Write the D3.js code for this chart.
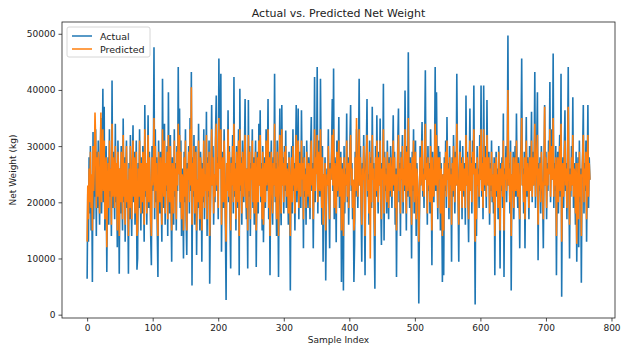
<!DOCTYPE html>
<html>
<head>
<meta charset="utf-8">
<script src="https://cdn.jsdelivr.net/npm/d3@7"></script>
<style>
  body { margin: 0; background: #fff; }
  text { font-family: "DejaVu Sans", sans-serif; fill: #222; }
</style>
</head>
<body>
<div id="chart"></div>
<script>
// values, in thousands of kg (one entry per sample index)
const actualK = [
  6.4, 22, 13, 28, 18, 30, 15, 24, 5.8, 32.5, 17, 26, 21, 33, 14, 29,
  19, 31, 23, 16, 27, 35, 18, 25, 40.2, 20, 37, 15, 24, 30, 7.6, 22,
  28, 16, 33, 21, 26, 14, 41.7, 19, 29, 23, 17, 34, 20, 27, 12, 31,
  24, 7.3, 26, 18, 30, 22, 15, 34.9, 20, 28, 13, 25, 31, 19, 23, 7.3,
  27, 17, 32, 21, 14, 26, 33.7, 20, 29, 16, 24, 31, 8, 10, 27, 19,
  33, 22, 15, 28, 18, 30, 24, 13, 37.3, 21, 27, 16, 25, 35.5, 19, 29,
  23, 14, 8.8, 30, 22, 26, 47.6, 17, 33, 20, 28, 15, 6.7, 31, 24, 18,
  29, 21, 13, 42, 25, 19, 34, 16, 27, 22, 30, 14, 39.6, 23, 18, 32,
  20, 9.4, 28, 24, 16, 33, 21, 27, 15, 30, 22, 44.1, 25, 36.7, 19, 31,
  14, 26, 23, 10, 29, 20, 33, 17, 10.6, 27, 24, 30, 18, 35, 22, 43.2,
  5.2, 28, 21, 32, 16, 25, 30, 10.6, 24, 19, 34, 22, 15, 29, 26, 9.4,
  27, 20, 33, 17, 25, 22, 36.1, 14, 28, 21, 31, 5.5, 18, 26, 37.3, 23,
  30, 16, 25, 20, 33, 39, 22, 28, 17, 45.6, 26, 31, 42.9, 11.2, 24, 29,
  19, 33, 25, 15, 2.6, 27, 22, 36.4, 20, 30, 17, 8.2, 28, 23, 32, 18,
  42.3, 21, 27, 15, 30, 24, 19, 33, 7, 40.2, 22, 28, 16, 31, 25, 20,
  29, 38.4, 23, 17, 26, 8.2, 38.2, 21, 30, 14, 27, 24, 33, 19, 28, 16,
  25, 31, 8.5, 22, 29, 18, 34, 23, 36.4, 20, 27, 15, 30, 12.9, 24, 28,
  19, 33, 22, 26, 38.4, 17, 29, 7, 25, 31, 21, 16, 28, 23, 42.9, 20,
  27, 14, 31, 24, 6.7, 26, 36.7, 21, 15.9, 37.3, 23, 28, 18, 30, 22, 32.8,
  19, 27, 24, 16, 29, 21, 4.3, 25, 30, 18, 33, 22, 27, 15, 28, 37.3,
  20, 26, 36.7, 17, 29, 23, 19, 36.4, 24, 28, 11.8, 30, 21, 26, 16, 31,
  23, 19, 28, 25, 17, 30, 35.2, 22, 27, 11.8, 24, 42.3, 20, 29, 26, 44.1,
  18, 31, 24, 21, 42, 27, 16, 30, 9.4, 25, 22, 28, 6.1, 19, 26, 23,
  33, 20, 11.8, 27, 24, 30, 38.4, 22, 43.8, 17, 28, 25, 12.9, 31, 21, 26,
  35.2, 19, 24, 29, 5.8, 27, 22, 4.3, 30, 18, 26, 23, 35.8, 20, 28, 16,
  25, 31, 37.3, 22, 27, 17, 24, 5.8, 12.4, 29, 21, 33, 26, 19, 28, 42,
  23, 30, 18, 9.4, 27, 24, 32, 20, 7, 26, 29, 38.4, 21, 25, 16, 31,
  22, 28, 19, 37, 24, 27, 15, 4.6, 30, 21, 35.5, 25, 18, 29, 23, 34.9,
  20, 12.4, 27, 24, 41.1, 13.2, 29, 22, 26, 18, 31, 24, 17, 28, 21, 30,
  25, 19, 27, 35.5, 22, 29, 16, 26, 6.7, 23, 31, 36.7, 20, 27, 14, 29,
  24, 32, 18, 26, 22, 39.9, 27, 15, 30, 21, 46.7, 25, 19, 28, 23, 10,
  29, 22, 33, 18, 26, 31, 14, 27, 24, 20, 2, 17, 30, 23, 28, 34.3,
  21, 26, 19, 31, 43.5, 24, 28, 16, 30, 22, 27, 18, 33, 25, 8.8, 29,
  23, 20, 27, 44.1, 22, 39.6, 26, 17, 30, 24, 29, 15, 27, 21, 5.8, 25,
  7, 28, 22, 31, 19, 35.2, 24, 27, 17, 30, 23, 26, 9.4, 28, 21, 32,
  25, 18, 29, 23, 42.9, 27, 20, 9.4, 26, 31, 22, 28, 17, 30, 24, 21,
  27, 16, 39, 23, 29, 20, 12.9, 26, 36.7, 22, 28, 18, 31, 25, 40.8, 21,
  1.8, 27, 14, 30, 23, 26, 19, 32, 24, 40.8, 21, 28, 17, 40.8, 25, 22,
  30, 19, 38.2, 26, 23, 29, 16, 27, 22, 31, 20, 25, 18, 28, 7, 24,
  29, 21, 26, 17, 30, 23, 8.2, 27, 22, 28, 19, 35.8, 6.7, 26, 24, 30,
  20, 28, 49.7, 23, 27, 18, 31, 4.3, 25, 22, 29, 17, 26, 30, 21, 35.8,
  24, 19, 28, 22, 11.8, 27, 31, 45.6, 23, 26, 18, 29, 11.8, 25, 35.2, 21,
  28, 24, 17, 30, 22, 26, 36.1, 20, 29, 23, 27, 43.2, 19, 25, 31, 39.6,
  9.7, 27, 22, 28, 18, 30, 24, 21, 11.8, 26, 37.3, 23, 29, 17, 27, 22,
  31, 25, 41.4, 20, 28, 33, 24, 46.5, 19, 27, 22, 30, 7, 25, 29, 18,
  26, 32, 21, 42.9, 3.2, 24, 28, 19, 30, 36.4, 22, 27, 17, 29, 44.1, 24,
  10, 26, 21, 30, 23, 38.7, 19, 27, 25, 16, 29, 9.4, 22, 28, 12, 31,
  20, 26, 5.7, 24, 29, 37.3, 18, 27, 22, 31, 13, 25, 37.3, 19, 28, 24
]

const predictedK = [
  13, 23, 17, 26, 20, 29, 19, 25, 15, 30, 22, 27, 36, 31, 19, 28,
  21, 29, 24, 18, 26, 36, 20, 25, 33, 22, 31, 17, 25, 28, 12, 23,
  27, 19, 31, 22, 26, 16, 34, 21, 28, 24, 19, 30, 21, 27, 15, 29,
  25, 14, 26, 20, 29, 23, 17, 32, 21, 27, 16, 25, 30, 20, 24, 14,
  26, 19, 30, 22, 17, 26, 31, 21, 28, 18, 24, 29, 14, 15, 26, 21,
  31, 23, 18, 27, 20, 29, 25, 16, 33, 22, 27, 18, 25, 32, 20, 28,
  24, 17, 14, 28, 23, 26, 35, 19, 30, 22, 27, 18, 14, 29, 24, 20,
  28, 22, 16, 33, 25, 21, 31, 18, 27, 23, 29, 17, 32, 24, 20, 30,
  21, 15, 27, 24, 18, 31, 22, 26, 17, 29, 23, 34, 25, 32, 20, 29,
  17, 25, 23, 15, 28, 21, 31, 19, 15, 26, 24, 29, 20, 33, 23, 40.5,
  16, 27, 22, 30, 18, 25, 29, 15, 24, 20, 31, 23, 17, 28, 25, 15,
  26, 21, 31, 19, 25, 22, 32, 17, 27, 22, 29, 14, 19, 26, 33, 23,
  28, 18, 25, 21, 31, 34, 23, 27, 19, 35, 26, 29, 33, 16, 24, 28,
  20, 31, 25, 17, 13, 27, 22, 33, 21, 29, 19, 15, 27, 23, 30, 20,
  34, 22, 26, 17, 29, 24, 20, 31, 14, 33, 23, 27, 18, 29, 25, 21,
  28, 32, 23, 19, 26, 15, 32, 22, 29, 17, 26, 24, 31, 20, 27, 18,
  25, 29, 15, 23, 28, 20, 31, 23, 32, 21, 26, 17, 29, 16, 24, 27,
  20, 31, 23, 26, 33, 19, 28, 14, 25, 29, 22, 18, 27, 23, 34, 21,
  26, 17, 29, 24, 14, 26, 32, 22, 18, 33, 23, 27, 20, 29, 23, 30,
  21, 26, 24, 18, 28, 22, 14, 25, 28, 20, 30, 23, 26, 18, 27, 32,
  22, 25, 31, 19, 27, 23, 21, 31, 24, 27, 17, 28, 22, 25, 19, 29,
  23, 21, 27, 25, 19, 28, 31, 23, 26, 17, 24, 33, 22, 28, 25, 32,
  20, 29, 24, 22, 33, 26, 19, 28, 16, 25, 23, 27, 15, 21, 25, 23,
  30, 22, 17, 26, 24, 28, 32, 23, 33, 19, 27, 25, 18, 29, 22, 25,
  31, 21, 24, 28, 15, 26, 23, 14, 28, 20, 25, 23, 31, 21, 27, 19,
  25, 29, 32, 23, 26, 19, 24, 15, 17, 28, 22, 35, 25, 21, 27, 33,
  23, 28, 20, 16, 26, 24, 30, 21, 14, 25, 28, 32, 22, 24, 18, 29,
  10, 27, 20, 32, 24, 26, 18, 14, 28, 22, 31, 25, 20, 28, 23, 31,
  21, 17, 26, 24, 33, 18, 28, 23, 25, 20, 29, 24, 19, 27, 22, 28,
  25, 21, 26, 31, 23, 28, 19, 25, 15, 23, 29, 32, 22, 26, 18, 28,
  24, 30, 20, 26, 23, 33, 26, 18, 29, 22, 35, 25, 21, 27, 23, 16,
  28, 23, 31, 20, 26, 29, 17, 26, 24, 21, 13, 19, 28, 23, 27, 31,
  22, 25, 21, 29, 34, 24, 27, 18, 28, 23, 26, 20, 30, 25, 15, 28,
  23, 21, 26, 34, 23, 32, 25, 19, 28, 24, 28, 18, 26, 22, 14, 25,
  15, 27, 23, 29, 21, 31, 24, 26, 19, 28, 23, 25, 16, 27, 22, 30,
  25, 20, 28, 23, 34, 26, 21, 16, 25, 29, 22, 27, 19, 28, 24, 22,
  26, 19, 32, 23, 28, 21, 17, 25, 31, 22, 27, 20, 29, 25, 33, 22,
  13, 26, 17, 28, 23, 25, 21, 30, 24, 33, 22, 27, 19, 33, 25, 23,
  28, 21, 32, 25, 23, 28, 18, 26, 23, 29, 21, 25, 20, 27, 14, 24,
  28, 22, 25, 19, 29, 23, 15, 26, 23, 27, 21, 31, 15, 25, 24, 28,
  22, 27, 40, 23, 26, 20, 29, 14, 25, 22, 28, 19, 25, 28, 22, 31,
  24, 21, 27, 22, 17, 26, 29, 35, 23, 25, 20, 28, 17, 25, 31, 22,
  27, 24, 19, 28, 22, 25, 31, 21, 28, 23, 26, 34, 21, 25, 29, 32,
  16, 26, 23, 27, 20, 29, 24, 22, 17, 25, 37, 23, 28, 19, 26, 23,
  29, 25, 33, 21, 27, 30, 24, 35, 21, 26, 23, 28, 14, 25, 28, 20,
  25, 30, 22, 34, 13, 24, 27, 21, 28, 31, 23, 26, 19, 28, 37, 24,
  16, 25, 22, 28, 23, 32, 21, 26, 25, 18, 27, 12.6, 22, 27, 17, 29,
  21, 25, 14, 24, 28, 32, 20, 26, 23, 29, 17, 25, 32, 21, 27, 24
]

const xTicks = [0, 100, 200, 300, 400, 500, 600, 700, 800]
const yTicks = [0, 10000, 20000, 30000, 40000, 50000]
const seriesNames = ["Actual", "Predicted"]
const colors = ["#1f77b4", "#ff7f0e"]

const width = 623
const height = 347
const plotLeft = 62, plotRight = 615, plotTop = 22, plotBottom = 318

let actual = actualK.map((v, i) => ({ i: i, v: v * 1000 }))
let predicted = predictedK.map((v, i) => ({ i: i, v: v * 1000 }))

let svg = d3.select("#chart")
            .append("svg")
            .attr("width", width)
            .attr("height", height)

// matplotlib style 5% margins
let n = actualK.length - 1
let xScale = d3.scaleLinear()
               .domain([-0.05 * n, n * 1.05])
               .range([plotLeft, plotRight])

let all = actual.concat(predicted).map(d => d.v)
let lo = d3.min(all), hi = d3.max(all)
let pad = (hi - lo) * 0.05
let yScale = d3.scaleLinear()
               .domain([lo - pad, hi + pad])
               .range([plotBottom, plotTop])

svg.append("defs").append("clipPath")
   .attr("id", "plot")
   .append("rect")
   .attr("x", plotLeft).attr("y", plotTop)
   .attr("width", plotRight - plotLeft).attr("height", plotBottom - plotTop)

let line = d3.line()
             .x(d => xScale(d.i))
             .y(d => yScale(d.v))

let lines = svg.append("g").attr("clip-path", "url(#plot)")

lines.append("path")
     .datum(actual)
     .attr("d", line)
     .attr("fill", "none")
     .attr("stroke", colors[0])
     .attr("stroke-width", 1.6)

lines.append("path")
     .datum(predicted)
     .attr("d", line)
     .attr("fill", "none")
     .attr("stroke", colors[1])
     .attr("stroke-width", 1.6)

//Axes
let xAxis = d3.axisBottom(xScale)
              .tickValues(xTicks)
              .tickFormat(d3.format("d"))
              .tickSizeOuter(0)
              .tickSize(3.5)
              .tickPadding(3)

svg.append("g")
   .attr("transform", `translate(0, ${plotBottom})`)
   .call(xAxis)
   .call(g => g.select(".domain").remove())

let yAxis = d3.axisLeft(yScale)
              .tickValues(yTicks)
              .tickFormat(d3.format("d"))
              .tickSizeOuter(0)
              .tickSize(3.5)
              .tickPadding(3)

svg.append("g")
   .attr("transform", `translate(${plotLeft}, 0)`)
   .call(yAxis)
   .call(g => g.select(".domain").remove())

svg.selectAll(".tick text")
   .style("font-size", "9px")
   .style("font-family", "DejaVu Sans, sans-serif")
   .attr("fill", "#222")
svg.selectAll(".tick line").attr("stroke", "#222").attr("stroke-width", 0.8)

// frame
svg.append("rect")
   .attr("x", plotLeft).attr("y", plotTop)
   .attr("width", plotRight - plotLeft).attr("height", plotBottom - plotTop)
   .attr("fill", "none")
   .attr("stroke", "#222")
   .attr("stroke-width", 0.8)

svg.append("text")
   .attr("x", (plotLeft + plotRight) / 2)
   .attr("y", 17)
   .attr("text-anchor", "middle")
   .style("font-size", "11px")
   .text("Actual vs. Predicted Net Weight")

svg.append("text")
   .attr("x", (plotLeft + plotRight) / 2)
   .attr("y", 343)
   .attr("text-anchor", "middle")
   .style("font-size", "9px")
   .text("Sample Index")

svg.append("text")
   .attr("transform", `translate(16, ${(plotTop + plotBottom) / 2}) rotate(-90)`)
   .attr("text-anchor", "middle")
   .style("font-size", "9px")
   .text("Net Weight (kg)")

//Legend
let legend = svg.append("g").attr("transform", `translate(${plotLeft + 5}, ${plotTop + 5})`)

legend.append("rect")
      .attr("width", 83).attr("height", 30)
      .attr("rx", 2)
      .attr("fill", "#fff").attr("fill-opacity", 0.8)
      .attr("stroke", "#ccc").attr("stroke-width", 0.8)

seriesNames.forEach((name, i) => {
  let g = legend.append("g").attr("transform", `translate(5, ${9 + i * 13})`)
  g.append("line")
   .attr("x1", 0).attr("x2", 20)
   .attr("stroke", colors[i]).attr("stroke-width", 1.5)
  g.append("text")
   .attr("x", 28).attr("y", 3.5)
   .style("font-size", "9.5px")
   .text(name)
})
</script>
</body>
</html>
